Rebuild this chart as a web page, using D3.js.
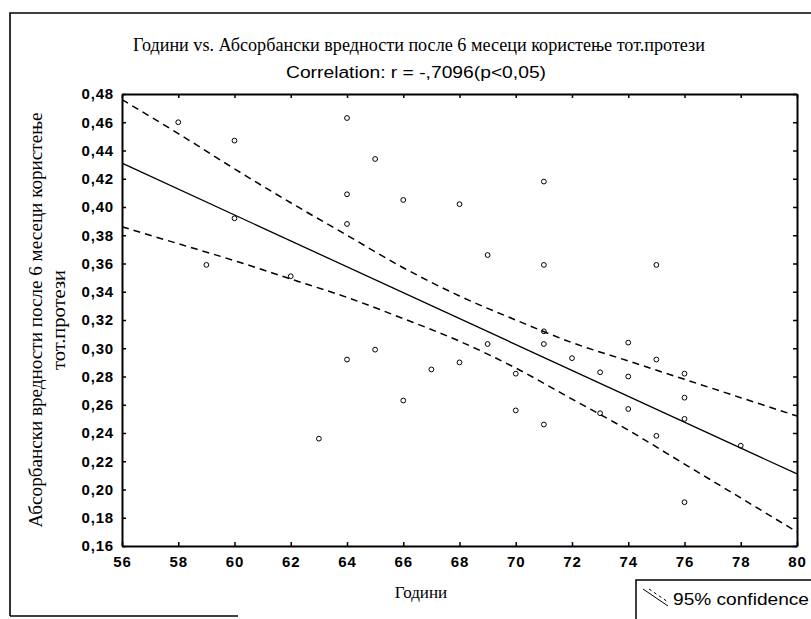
<!DOCTYPE html>
<html>
<head>
<meta charset="utf-8">
<script src="https://cdn.jsdelivr.net/npm/d3@7"></script>
<style>
  body { margin: 0; background: #fff; }
  svg { display: block; }
</style>
</head>
<body>
<svg id="chart" width="811" height="619"></svg>
<script>
// Age (years) of each patient and the absorbance measured after 6 months of denture use
const ageYears = [58, 60, 60, 59, 62, 63, 64, 64, 64, 64, 65, 65, 66, 66, 67, 68, 68, 69, 69, 70,
                  70, 71, 71, 71, 71, 71, 72, 73, 73, 74, 74, 74, 75, 75, 75, 76, 76, 76, 76, 78];
const absorbance = [0.460, 0.447, 0.392, 0.359, 0.351, 0.236, 0.463, 0.409, 0.388, 0.292,
                    0.434, 0.299, 0.405, 0.263, 0.285, 0.402, 0.290, 0.366, 0.303, 0.282,
                    0.256, 0.418, 0.359, 0.312, 0.303, 0.246, 0.293, 0.283, 0.254, 0.280,
                    0.257, 0.304, 0.292, 0.238, 0.359, 0.282, 0.265, 0.250, 0.191, 0.231];

// Least-squares line, drawn between its two end values
const fitAge = [56, 80];
const fitValue = [0.431, 0.211];

// 95% confidence band around the line
const bandAge = [56, 58, 60, 62, 64, 66, 68, 70, 72, 74, 76, 78, 80];
const bandUpper = [0.476, 0.452, 0.427, 0.403, 0.380, 0.357, 0.337, 0.320, 0.304, 0.291, 0.278, 0.265, 0.252];
const bandLower = [0.386, 0.374, 0.362, 0.349, 0.336, 0.321, 0.305, 0.286, 0.264, 0.242, 0.218, 0.194, 0.170];

const xTickValues = [56, 58, 60, 62, 64, 66, 68, 70, 72, 74, 76, 78, 80];
const yTickValues = [0.16, 0.18, 0.20, 0.22, 0.24, 0.26, 0.28, 0.30, 0.32, 0.34, 0.36, 0.38, 0.40, 0.42, 0.44, 0.46, 0.48];

const titleText = "Години vs.  Абсорбански вредности после 6 месеци користење тот.протези";
const subtitleText = "Correlation:  r = -,7096(p<0,05)";
const yLabelLines = ["Абсорбански вредности после 6 месеци користење", "тот.протези"];
const xLabelText = "Години";
const legendText = "95% confidence";

const svg = d3.select("#chart");
const plot = { left: 122, right: 797, top: 94, bottom: 546 };

const x = d3.scaleLinear().domain([56, 80]).range([plot.left, plot.right]);
const y = d3.scaleLinear().domain([0.16, 0.48]).range([plot.bottom, plot.top]);

const commaLocale = d3.formatLocale({ decimal: ",", thousands: " ", grouping: [3], currency: ["", ""] });
const yFormat = commaLocale.format(".2f");

const sans = "'Liberation Sans', Arial, sans-serif";
const serif = "'Liberation Serif', 'Times New Roman', serif";

// Outer page frame
svg.append("path")
  .attr("d", "M10,616 L10,13 L811,13")
  .attr("fill", "none").attr("stroke", "#000").attr("stroke-width", 1.6);
svg.append("line")
  .attr("x1", 10).attr("x2", 238).attr("y1", 616).attr("y2", 616)
  .attr("stroke", "#000").attr("stroke-width", 1.6);

// Titles
svg.append("text")
  .attr("x", 419).attr("y", 51)
  .attr("text-anchor", "middle")
  .attr("textLength", 572).attr("lengthAdjust", "spacingAndGlyphs")
  .style("font-family", serif).style("font-size", "18px")
  .text(titleText);
svg.append("text")
  .attr("x", 416).attr("y", 78)
  .attr("text-anchor", "middle")
  .attr("textLength", 260).attr("lengthAdjust", "spacingAndGlyphs")
  .style("font-family", sans).style("font-size", "16px")
  .text(subtitleText);

// Axes: a closed box with inward ticks on all four sides
function styleAxis(g) {
  g.selectAll(".domain").attr("stroke-width", 2);
  g.selectAll(".tick line").attr("stroke-width", 1.5);
  g.selectAll("text")
    .style("font-family", sans).style("font-size", "15px")
    .style("font-weight", "bold").style("letter-spacing", "0.8px")
    .attr("fill", "#000");
}

svg.append("g")
  .attr("transform", `translate(0,${plot.bottom})`)
  .call(d3.axisBottom(x).tickValues(xTickValues).tickFormat(d3.format("d"))
    .tickSizeInner(-4).tickSizeOuter(0).tickPadding(10))
  .call(styleAxis);

svg.append("g")
  .attr("transform", `translate(0,${plot.top})`)
  .call(d3.axisTop(x).tickValues(xTickValues).tickFormat("")
    .tickSizeInner(-4).tickSizeOuter(0))
  .call(styleAxis);

svg.append("g")
  .attr("transform", `translate(${plot.left},0)`)
  .call(d3.axisLeft(y).tickValues(yTickValues).tickFormat(yFormat)
    .tickSizeInner(-4).tickSizeOuter(0).tickPadding(8))
  .call(styleAxis);

svg.append("g")
  .attr("transform", `translate(${plot.right},0)`)
  .call(d3.axisRight(y).tickValues(yTickValues).tickFormat("")
    .tickSizeInner(-4).tickSizeOuter(0))
  .call(styleAxis);

// Axis titles
const yLabel = svg.append("g").attr("transform", "rotate(-90)")
  .style("font-family", serif).style("font-size", "18px");
yLabel.append("text")
  .attr("x", -320).attr("y", 42)
  .attr("text-anchor", "middle")
  .attr("textLength", 415).attr("lengthAdjust", "spacingAndGlyphs")
  .text(yLabelLines[0]);
yLabel.append("text")
  .attr("x", -320).attr("y", 65)
  .attr("text-anchor", "middle")
  .attr("textLength", 100).attr("lengthAdjust", "spacingAndGlyphs")
  .text(yLabelLines[1]);

svg.append("text")
  .attr("x", 421).attr("y", 598)
  .attr("text-anchor", "middle")
  .style("font-family", serif).style("font-size", "17px")
  .text(xLabelText);

// Confidence band lines (dashed)
const bandPoints = (vals) => bandAge.map((a, i) => [a, vals[i]]);
const curve = d3.line().x(d => x(d[0])).y(d => y(d[1])).curve(d3.curveMonotoneX);

[bandUpper, bandLower].forEach(vals => {
  svg.append("path")
    .attr("d", curve(bandPoints(vals)))
    .attr("fill", "none").attr("stroke", "#000")
    .attr("stroke-width", 1.5).attr("stroke-dasharray", "7,5");
});

// Regression line
svg.append("path")
  .attr("d", d3.line().x(d => x(d[0])).y(d => y(d[1]))(fitAge.map((a, i) => [a, fitValue[i]])))
  .attr("fill", "none").attr("stroke", "#000").attr("stroke-width", 1.3);

// Observations
svg.append("g").selectAll("circle")
  .data(ageYears.map((a, i) => ({ age: a, value: absorbance[i] })))
  .join("circle")
  .attr("cx", d => x(d.age)).attr("cy", d => y(d.value))
  .attr("r", 2.4)
  .attr("fill", "none").attr("stroke", "#000").attr("stroke-width", 1);

// Legend
const legend = svg.append("g");
legend.append("rect")
  .attr("x", 636).attr("y", 580).attr("width", 180).attr("height", 45)
  .attr("fill", "#fff").attr("stroke", "#000").attr("stroke-width", 1.5);
legend.append("line")
  .attr("x1", 643).attr("y1", 589).attr("x2", 668).attr("y2", 606)
  .attr("stroke", "#000").attr("stroke-width", 1);
legend.append("line")
  .attr("x1", 649).attr("y1", 589).attr("x2", 668).attr("y2", 602)
  .attr("stroke", "#000").attr("stroke-width", 1).attr("stroke-dasharray", "3,3");
legend.append("text")
  .attr("x", 673).attr("y", 605)
  .attr("textLength", 136).attr("lengthAdjust", "spacingAndGlyphs")
  .style("font-family", sans).style("font-size", "16px")
  .text(legendText);
</script>
</body>
</html>
